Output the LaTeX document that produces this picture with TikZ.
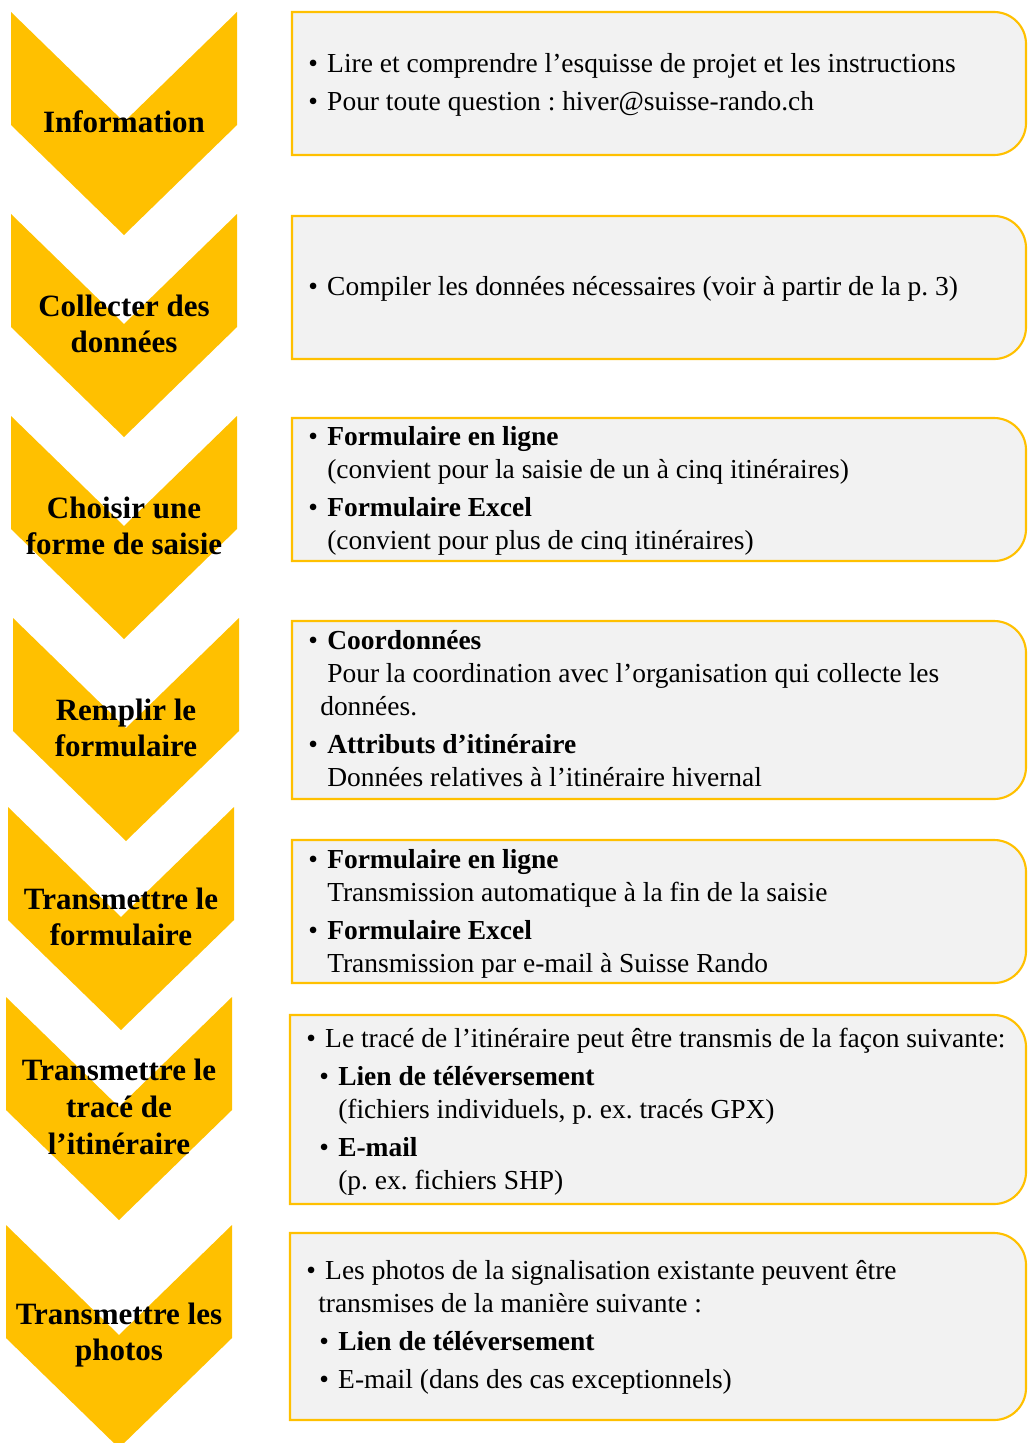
\documentclass[tikz,border=0pt]{standalone}
\usepackage{fontspec}
\setmainfont{Liberation Serif}
\frenchspacing
\definecolor{gold}{HTML}{FFC000}
\definecolor{boxgrey}{HTML}{F2F2F2}
\newcommand\bul{\makebox[14.25pt][l]{\textbullet}}
\begin{document}
\begin{tikzpicture}[x=0.75pt,y=-0.75pt,
  steplabel/.style={align=center,inner sep=0pt,font=\fontsize{23.25}{27.5}\selectfont\bfseries},
  boxtext/.style={anchor=north west,align=left,inner sep=0pt,font=\fontsize{20.6}{24.75}\selectfont},
  frame/.style={draw=gold,line width=1.6pt,fill=boxgrey}]
\useasboundingbox (0,0) rectangle (1028,1443);
% chevrons with their step names
\foreach \x/\y/\n/\t in {11/12/info/{Information},11/214/collect/{Collecter des\\données},
  11/416/choose/{Choisir une\\forme de saisie},13/618/fill/{Remplir le\\formulaire},
  8/807/sendform/{Transmettre le\\formulaire},6/997/sendtrack/{Transmettre le\\tracé de\\l’itinéraire},
  6/1225/sendphoto/{Transmettre les\\photos}}{
\fill[gold] (\x,\y) -- ++(113,110) -- ++(113,-110) -- ++(0,113) -- ++(-113,110) -- ++(-113,-110) -- cycle;
\node[steplabel] (\n) at (\x+113,\y+110) {\t};
}
% boxes, only the right corners are round
\foreach \t/\b/\l in {12/155/292,216/359/292,418/561/292,621/799/292,840/983/292,1015/1204/290,1233/1420/290}
\draw[frame] (\l,\t) -- (994,\t) arc[start angle=-90,end angle=0,radius=32] -- (1026,{\b-32})
  arc[start angle=0,end angle=90,radius=32] -- (\l,\b) -- cycle;

\node[boxtext] (infotext) at (308,49) {\strut\bul Lire et comprendre l’esquisse de projet et les instructions\\[3.75pt]
  \bul Pour toute question : hiver@suisse-rando.ch};
\node[boxtext] (collecttext) at (308,272) {\strut\bul Compiler les données nécessaires (voir à partir de la p. 3)};
\node[boxtext] (choosetext) at (308,422) {\strut\bul\textbf{Formulaire en ligne}\\
  \hspace*{14.25pt}(convient pour la saisie de un à cinq itinéraires)\\[3.75pt]
  \bul\textbf{Formulaire Excel}\\
  \hspace*{14.25pt}(convient pour plus de cinq itinéraires)};
\node[boxtext] (filltext) at (308,626) {\strut\bul\textbf{Coordonnées}\\
  \hspace*{14.25pt}Pour la coordination avec l’organisation qui collecte les\\
  \hspace*{9pt}données.\\[3.75pt]
  \bul\textbf{Attributs d’itinéraire}\\
  \hspace*{14.25pt}Données relatives à l’itinéraire hivernal};
\node[boxtext] (sendformtext) at (308,845) {\strut\bul\textbf{Formulaire en ligne}\\
  \hspace*{14.25pt}Transmission automatique à la fin de la saisie\\[3.75pt]
  \bul\textbf{Formulaire Excel}\\
  \hspace*{14.25pt}Transmission par e-mail à Suisse Rando};
\node[boxtext] (sendtracktext) at (306,1024) {\strut\bul Le tracé de l’itinéraire peut être transmis de la façon suivante:\\[3.75pt]
  \hspace*{9.75pt}\bul\textbf{Lien de téléversement}\\
  \hspace*{24pt}(fichiers individuels, p. ex. tracés GPX)\\[3.75pt]
  \hspace*{9.75pt}\bul\textbf{E-mail}\\
  \hspace*{24pt}(p. ex. fichiers SHP)};
\node[boxtext] (sendphototext) at (306,1256) {\strut\bul Les photos de la signalisation existante peuvent être\\
  \hspace*{9pt}transmises de la manière suivante :\\[3.75pt]
  \hspace*{9.75pt}\bul\textbf{Lien de téléversement}\\[3.75pt]
  \hspace*{9.75pt}\bul E-mail (dans des cas exceptionnels)};
\end{tikzpicture}
\end{document}
